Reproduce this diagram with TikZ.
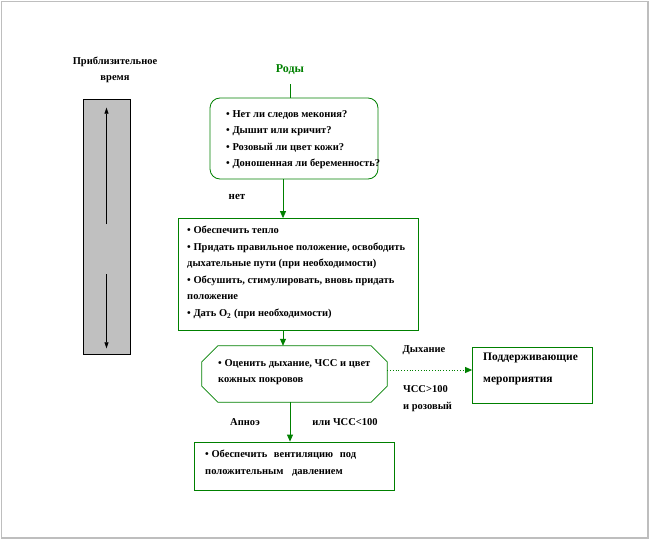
\documentclass[tikz,border=0pt]{standalone}
\usepackage{fontspec}
\setmainfont{Liberation Serif}
\usetikzlibrary{arrows.meta}
\definecolor{dg}{RGB}{0,128,0}
\definecolor{framegray}{RGB}{190,190,190}
\definecolor{barg}{RGB}{192,192,192}
\begin{document}
\begin{tikzpicture}[x=1pt,y=-1pt,
 box/.style={draw=dg, line width=0.8pt, inner sep=0pt},
 txt/.style={font=\bfseries\fontsize{10.5}{16.5}\selectfont, align=left, inner sep=0pt, anchor=west},
 conn/.style={draw=dg, line width=0.8pt, -{Triangle[length=7pt,width=6pt]}},
 lbl/.style={font=\bfseries\fontsize{10.5}{12}\selectfont, inner sep=0pt},
 barrow/.style={draw=black, line width=0.6pt, -{Triangle[length=6pt,width=4pt]}}]
\useasboundingbox (0,0) rectangle (650,540);
\draw[framegray, line width=1.5pt] (1.5,1.5) rectangle (648,538);

% left time bar
\node[lbl, align=center, font=\bfseries\fontsize{10.5}{16}\selectfont] (title) at (115,70) {Приблизительное\\время};
\node[draw=black, fill=barg, minimum width=47pt, minimum height=255pt, inner sep=0pt, line width=0.6pt] (bar) at (106.5,226.5) {};
\draw[barrow] ([yshift=2.5pt]bar.center) -- ([yshift=-9pt]bar.north);
\draw[barrow] ([yshift=-47.5pt]bar.center) -- ([yshift=6pt]bar.south);

% Rody
\node[lbl, text=dg, font=\bfseries\fontsize{12}{14}\selectfont] (rody) at (290,70) {Роды};

% box 1
\node[box, rounded corners=10pt, minimum width=168pt, minimum height=81pt] (b1) at (294,138.5) {};
\node[txt] (t1) at (226,139.5) {• Нет ли следов мекония?\\• Дышит или кричит?\\• Розовый ли цвет кожи?\\• Доношенная ли беременность?};

\node[lbl, font=\bfseries\fontsize{11}{12}\selectfont] (net) at (237,197) {нет};

% box 2
\node[box, minimum width=240pt, minimum height=112pt] (b2) at (298,274.5) {};
\node[txt] (t2) at (187,272.5) {• Обеспечить тепло\\• Придать правильное положение, освободить\\дыхательные пути (при необходимости)\\• Обсушить, стимулировать, вновь придать\\положение\\• Дать O\textsubscript{2} (при необходимости)};

% octagon (outline drawn from the corners of an invisible node)
\node[inner sep=0pt, minimum width=185pt, minimum height=56pt] (oct) at (294.5,374) {};
\draw[dg, line width=0.8pt]
  ([xshift=16pt]oct.north west) -- ([xshift=-16pt]oct.north east) --
  ([yshift=-16pt]oct.north east) -- ([yshift=16pt]oct.south east) --
  ([xshift=-16pt]oct.south east) -- ([xshift=16pt]oct.south west) --
  ([yshift=16pt]oct.south west) -- ([yshift=-16pt]oct.north west) -- cycle;
\node[txt] (t3) at (218,372) {• Оценить дыхание, ЧСС и цвет\\кожных покровов};

% right box
\node[box, minimum width=120pt, minimum height=56pt] (b4) at (532.5,375) {};
\node[txt, font=\bfseries\fontsize{11.5}{22}\selectfont] (t4) at (483,369) {Поддерживающие\\мероприятия};

\node[lbl] (dyh) at (424,350) {Дыхание};
\node[lbl, anchor=west] (chss1) at (403,389) {ЧСС>100};
\node[lbl, anchor=west] (roz) at (403,407) {и розовый};

% box 3
\node[box, minimum width=200pt, minimum height=48pt] (b5) at (294,466) {};
\node[txt, font=\bfseries\fontsize{10.5}{17}\selectfont] (t5) at (205,463.5) {• Обеспечить\hspace{4pt} вентиляцию\hspace{4pt} под\\положительным\hspace{6pt} давлением};

\node[lbl] (apnoe) at (245,422) {Апноэ};
\node[lbl] (chss2) at (345,422) {или ЧСС<100};

% connectors
\draw[dg, line width=0.8pt, shorten <=9pt] (rody.south) -- (rody.south |- b1.north);
\draw[conn] ([xshift=-11pt]b1.south) -- ([xshift=-11pt]b1.south |- b2.north);
\draw[conn] ([xshift=-15pt]b2.south) -- ([xshift=-15pt]b2.south |- oct.north);
\draw[conn, dotted] ([yshift=4pt]oct.east) -- ([yshift=4pt]oct.east -| b4.west);
\draw[conn] ([xshift=-4.5pt]oct.south) -- ([xshift=-4.5pt]oct.south |- b5.north);
\end{tikzpicture}
\end{document}
